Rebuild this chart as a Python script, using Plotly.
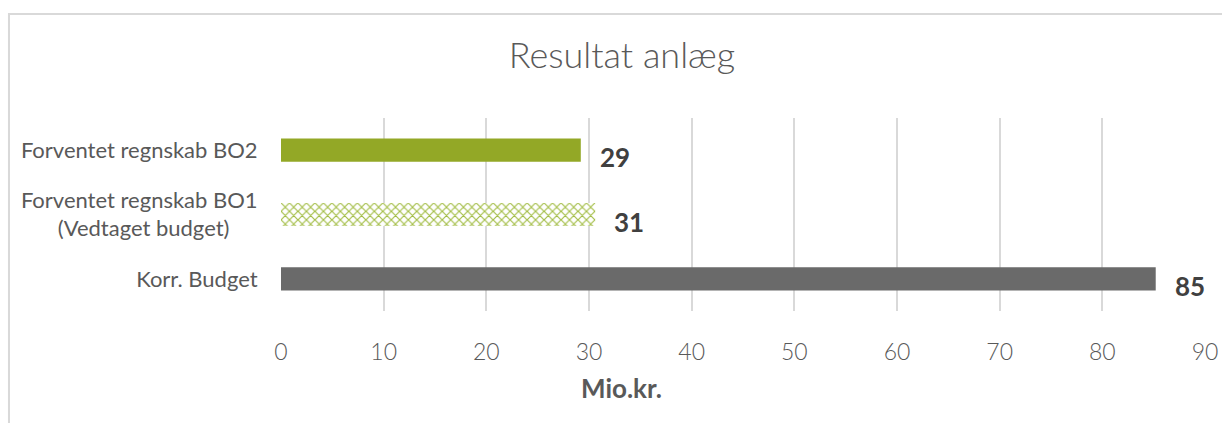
import plotly.graph_objects as go

kategorier = ["Korr. Budget", "Forventet regnskab BO1<br>(Vedtaget budget)" + "\u00a0" * 5, "Forventet regnskab BO2"]
vaerdier = [85.2, 30.6, 29.2]
etiketter = ["85", "31", "29"]
farver = ["#6a6a6a", "#a3bd45", "#93a826"]
skravering = [False, True, False]
x_ticks = [0, 10, 20, 30, 40, 50, 60, 70, 80, 90]

font = "Lato"
graa_tekst = "#595959"

fig = go.Figure()
for i, kat in enumerate(kategorier):
    if skravering[i]:
        marker = dict(
            color=farver[i], line=dict(width=0),
            pattern=dict(shape="x", fillmode="replace", bgcolor="#ffffff", size=6, solidity=0.35),
        )
    else:
        marker = dict(color=farver[i], line=dict(width=0))
    fig.add_trace(go.Bar(
        x=[vaerdier[i]], y=[kat], orientation="h",
        marker=marker, width=0.36, hoverinfo="skip",
    ))

for v, y, t in zip(vaerdier, kategorier, etiketter):
    fig.add_annotation(
        x=v, y=y, text=f"<b>{t}</b>", showarrow=False,
        xanchor="left", xshift=17, yshift=-7,
        font=dict(family=font, size=26, color="#404040"),
    )

# aksetitel centreret over hele diagrammet, som i Excel
fig.add_annotation(
    xref="paper", yref="paper", x=0.368, y=-0.399,
    xanchor="center", yanchor="middle", showarrow=False,
    text="<b>Mio.kr.</b>", font=dict(family=font, size=26, color=graa_tekst),
)

fig.update_layout(
    width=1222,
    height=423,
    barmode="overlay",
    paper_bgcolor="white",
    plot_bgcolor="white",
    margin=dict(l=281, r=17, t=118, b=112, autoexpand=False),
    showlegend=False,
    title=dict(
        text="Resultat anlæg", x=0.509, xanchor="center", y=0.87, yanchor="middle",
        font=dict(family=font, size=36, color=graa_tekst, weight=300),
    ),
    font=dict(family=font, color=graa_tekst),
    shapes=[dict(
        type="rect", xref="paper", yref="paper",
        x0=-0.2944, x1=1.05, y0=-0.7, y1=1.539,
        line=dict(color="#d9d9d9", width=2), fillcolor="rgba(0,0,0,0)", layer="below",
    )],
)

fig.update_xaxes(
    range=[0, 90],
    tickvals=x_ticks,
    automargin=False,
    showgrid=True, gridcolor="#d9d9d9", gridwidth=2,
    zeroline=False, showline=False,
    ticks="outside", ticklen=20, tickcolor="rgba(0,0,0,0)",
    tickfont=dict(family=font, size=23, color=graa_tekst, weight=300),
)
fig.update_yaxes(
    categoryorder="array", categoryarray=kategorier,
    range=[-0.5, 2.5],
    automargin=False,
    showgrid=False, zeroline=False, showline=False,
    ticks="outside", ticklen=18, tickcolor="rgba(0,0,0,0)",
    tickfont=dict(family=font, size=22, color=graa_tekst),
)

fig.write_html(
    "out.html",
    config={"displayModeBar": False},
    post_script="document.body.style.margin='0';",
)
